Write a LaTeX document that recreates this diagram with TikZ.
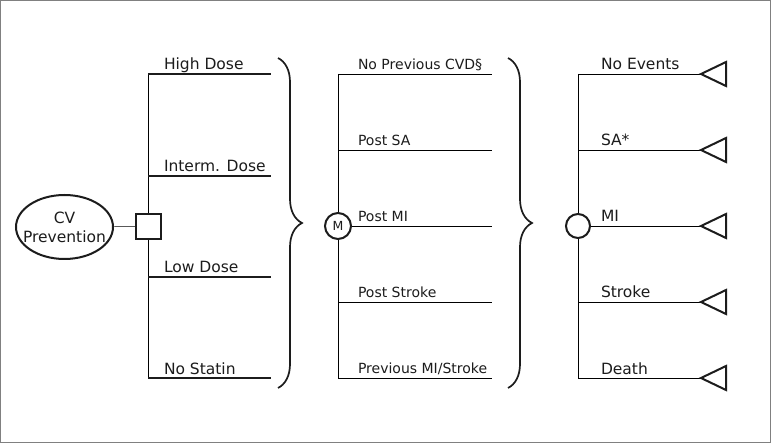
\documentclass[tikz,border=0pt]{standalone}
\usepackage{fontspec}
\setmainfont{DejaVu Sans}
\usepackage{xcolor}
\usetikzlibrary{shapes.geometric, decorations.pathreplacing, backgrounds, positioning}
\definecolor{inkgray}{RGB}{28,28,28}
\definecolor{framegray}{RGB}{128,128,128}

\begin{document}
\begin{tikzpicture}[x=1pt, y=-1pt, inkgray, line width=2pt,
    lbl/.style={anchor=base west, inner sep=0pt, font=\fontsize{15.5}{18}\selectfont},
    midlbl/.style={anchor=base west, inner sep=0pt, font=\fontsize{14}{16}\selectfont},
    bigbrace/.style={decorate, decoration={brace, amplitude=24pt}, line width=1.7pt},
    endtri/.style={isosceles triangle, isosceles triangle stretches, shape border rotate=180,
        minimum width=24pt, minimum height=25pt, inner sep=0pt, outer sep=0pt, draw, fill=white, anchor=apex}]
    \useasboundingbox (0,0) rectangle (771,443);

    % root and decision
    \node[ellipse, draw, fill=white, minimum width=97pt, minimum height=64pt, inner sep=-8pt,
        align=center, font=\fontsize{15.5}{19}\selectfont] (cv) at (64.5,227) {CV\\Prevention};
    \node[rectangle, draw, fill=white, minimum size=25pt, inner sep=0pt] (choice) at (148.5,226.5) {};
    \node[circle, draw, fill=white, minimum size=26pt, inner sep=0pt,
        font=\fontsize{12.5}{14}\selectfont] (markov) at (338,226) {M};
    \node[circle, draw, fill=white, minimum size=24pt, inner sep=0pt] (chance) at (578,226) {};

    % trunks
    \coordinate (dtop) at (148,74);  \coordinate (dbot) at (148,378);
    \coordinate (mtop) at (338,74);  \coordinate (mbot) at (338,378);
    \coordinate (ctop) at (578,74);  \coordinate (cbot) at (578,378);

    \begin{scope}[on background layer]
        \fill[white] (0,0) rectangle (771,443);
        \draw[framegray, line width=1.2pt] (0.6,0.6) rectangle (770.4,442.4);
        \draw (cv) -- (choice);
        \draw (dtop) -- (dbot);
        \draw (mtop) -- (mbot);
        \draw (ctop) -- (cbot);
    \end{scope}

    % strategies
    \foreach \y/\name/\txt in {74/dose1/High Dose, 176/dose2/Interm. Dose,
                               277/dose3/Low Dose, 378/dose4/No Statin} {
        \coordinate (\name s) at (148,\y);
        \coordinate (\name) at (271,\y);
        \draw (\name s) -- (\name);
        \node[lbl] (\name lbl) at (163,\y-4) {\txt};
    }

    % braces
    \coordinate (brace1a) at (278,58); \coordinate (brace1b) at (278,388);
    \coordinate (brace2a) at (508,58); \coordinate (brace2b) at (508,388);
    \draw[bigbrace] (brace1a) -- (brace1b);
    \draw[bigbrace] (brace2a) -- (brace2b);

    % history states
    \foreach \y/\name/\txt in {74/hist1/No Previous CVD§, 150/hist2/Post SA, 226/hist3/Post MI,
                               302/hist4/Post Stroke, 378/hist5/{Previous MI/Stroke}} {
        \coordinate (\name s) at (338,\y);
        \coordinate (\name) at (492,\y);
        \begin{scope}[on background layer]
            \draw (\name s) -- (\name);
        \end{scope}
        \node[midlbl] (\name lbl) at (357,\y-4.5) {\txt};
    }

    % events
    \foreach \y/\name/\txt in {74/evt1/No Events, 150/evt2/SA*, 226/evt3/MI,
                               302/evt4/Stroke, 378/evt5/Death} {
        \coordinate (\name s) at (578,\y);
        \coordinate (\name) at (701,\y);
        \begin{scope}[on background layer]
            \draw (\name s) -- (\name);
        \end{scope}
        \node[endtri] (\name tri) at (\name) {};
        \node[lbl] (\name lbl) at (600,\y-4) {\txt};
    }
\end{tikzpicture}
\end{document}
